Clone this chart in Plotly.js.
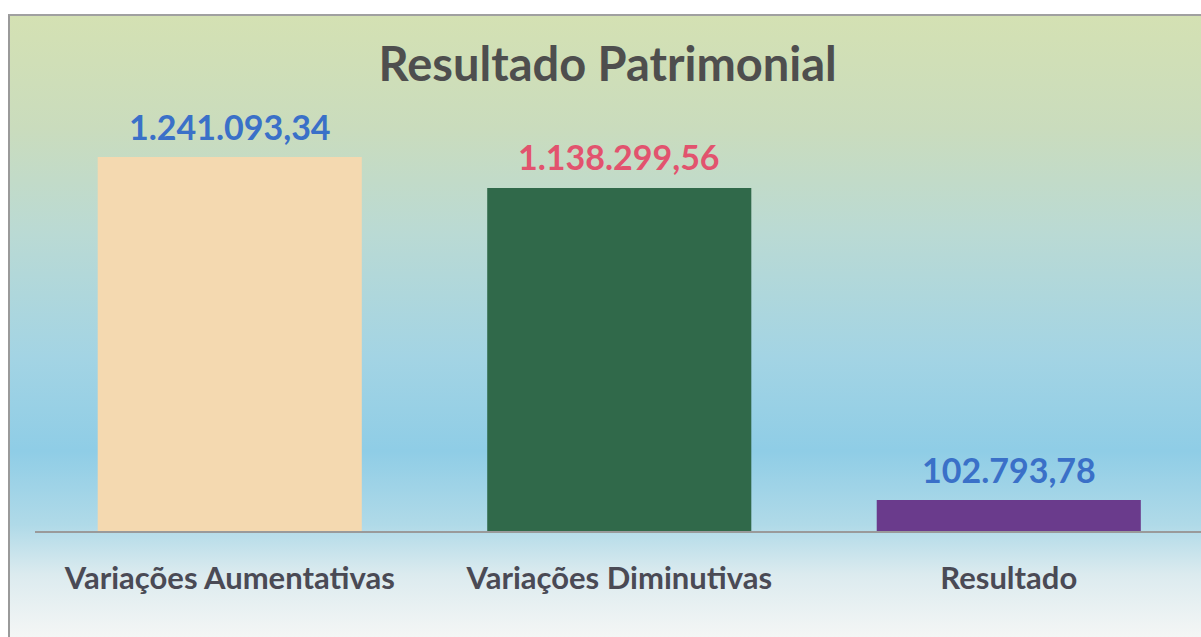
<!DOCTYPE html>
<html>
<head>
<meta charset="utf-8">
<script src="https://cdn.plot.ly/plotly-3.0.1.min.js"></script>
<style>
  html, body { margin:0; padding:0; background:#ffffff; }
  #wrap { position:relative; width:1201px; height:637px; overflow:hidden; background:#fff; }
  #frame { position:absolute; left:8px; top:14px; width:1200px; height:621px;
    border-left:2px solid #9a9a9a; border-top:2px solid #a0a0a0; border-bottom:1px solid #b0b0b0;
    background: linear-gradient(to bottom,
      #d4e1b3 0%, #cadcbd 18%, #badad4 35%, #a3d4e4 55%, #8fcde6 70%, #b0dae8 82%,
      #dcebef 90%, #f4f6f5 100%);
  }
  #chart { position:absolute; left:0; top:0; width:1201px; height:637px; }
</style>
</head>
<body>
<div id="wrap">
  <div id="frame"></div>
  <div id="chart"></div>
</div>
<script>
const categories = ["Variações Aumentativas", "Variações Diminutivas", "Resultado"];
const values = [1241093.34, 1138299.56, 102793.78];
const valueLabels = ["1.241.093,34", "1.138.299,56", "102.793,78"];
const barColors = ["#f4d9b0", "#30694a", "#6a3b8c"];
const labelColors = ["#3a70c8", "#e2536e", "#3a70c8"];

const FONT = "Lato, 'Open Sans', sans-serif";

const trace = {
  type: "bar",
  x: categories,
  y: values,
  marker: { color: barColors, line: { width: 0 } },
  hoverinfo: "skip"
};

const annotations = categories.map((c, i) => ({
  x: c, y: values[i], xref: "x", yref: "y",
  text: valueLabels[i], showarrow: false,
  yanchor: "middle", yshift: 31,
  font: { family: FONT, size: 34, color: labelColors[i], weight: "bold" }
}));

const layout = {
  width: 1201, height: 637,
  paper_bgcolor: "rgba(0,0,0,0)",
  plot_bgcolor: "rgba(0,0,0,0)",
  margin: { l: 35, r: 0, t: 60, b: 106 },
  bargap: 0.322,
  showlegend: false,
  title: {
    text: "Resultado Patrimonial",
    x: 0.506, xanchor: "center", y: 0.898, yanchor: "middle",
    font: { family: FONT, size: 47, color: "#4e4e4e", weight: "bold" }
  },
  xaxis: {
    range: [-0.5, 2.4935],
    showline: true, linecolor: "#9a9a9a", linewidth: 1.5,
    showgrid: false, zeroline: false,
    ticks: "", ticklabelstandoff: 19,
    tickfont: { family: FONT, size: 31, color: "#4a4a55", weight: "bold" },
    fixedrange: true
  },
  yaxis: {
    range: [0, 1563000],
    visible: false, showgrid: false, zeroline: false, fixedrange: true
  },
  annotations: annotations
};

Plotly.newPlot("chart", [trace], layout, { displayModeBar: false, staticPlot: true });
</script>
</body>
</html>
